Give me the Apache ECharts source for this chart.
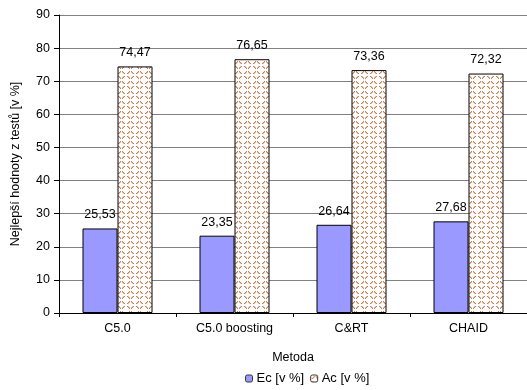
<!DOCTYPE html>
<html>
<head>
<meta charset="utf-8">
<script src="https://cdn.jsdelivr.net/npm/echarts@6/dist/echarts.min.js"></script>
<style>
html, body { margin: 0; padding: 0; background: #fff; }
#chart { width: 527px; height: 390px; }
</style>
</head>
<body>
<div id="chart"></div>
<script>
// Chart data
const categories = ['C5.0', 'C5.0 boosting', 'C&RT', 'CHAID'];
const ecValues = [25.53, 23.35, 26.64, 27.68];
const acValues = [74.47, 76.65, 73.36, 72.32];
const seriesNames = ['Ec [v %]', 'Ac [v %]'];
const yTicks = [0, 10, 20, 30, 40, 50, 60, 70, 80, 90];

// Tiled texture for the Ac bars: brown diagonal dashes in a diamond layout
function makePattern() {
  const c = document.createElement('canvas');
  c.width = 9; c.height = 10;
  const g = c.getContext('2d');
  g.fillStyle = '#ffffff';
  g.fillRect(0, 0, 9, 10);
  const strong = '#cf7d4c', soft = 'rgba(207,125,76,0.5)';
  const px = (x, y, col) => { g.fillStyle = col; g.fillRect(x, y, 1, 1); };
  // upper-left  /
  px(1, 3, strong); px(2, 2, strong); px(3, 1, strong); px(2, 3, soft); px(3, 2, soft);
  // upper-right \
  px(5, 1, strong); px(6, 2, strong); px(7, 3, strong); px(5, 2, soft); px(6, 3, soft);
  // lower-left  \
  px(1, 6, strong); px(2, 7, strong); px(3, 8, strong); px(2, 6, soft); px(3, 7, soft);
  // lower-right /
  px(7, 6, strong); px(6, 7, strong); px(5, 8, strong); px(6, 6, soft); px(5, 7, soft);
  return c;
}
const pattern = makePattern();

const fmt = v => v.toFixed(2).replace('.', ',');
const font = 'Liberation Sans, Arial, sans-serif';
const fs = 12.5;

const chart = echarts.init(document.getElementById('chart'), null, { renderer: 'canvas' });
chart.setOption({
  animation: false,
  textStyle: { fontFamily: font },
  grid: { left: 59, top: 15, width: 476, height: 298, containLabel: false },
  legend: {
    bottom: 0,
    left: 240,
    itemWidth: 7,
    itemHeight: 7,
    itemGap: 6,
    data: seriesNames,
    itemStyle: { borderColor: '#333', borderWidth: 1 },
    textStyle: { fontFamily: font, fontSize: 13, color: '#000', padding: [0, 0, 0, -1] }
  },
  xAxis: {
    type: 'category',
    data: categories,
    name: 'Metoda',
    nameLocation: 'middle',
    nameGap: 38,
    nameTextStyle: { fontFamily: font, fontSize: fs, color: '#000' },
    axisLine: { lineStyle: { color: '#000', width: 1 } },
    axisTick: { show: true, length: 4, lineStyle: { color: '#000' } },
    axisLabel: { color: '#000', fontSize: fs, margin: 9, fontFamily: font },
    splitLine: { show: false }
  },
  yAxis: {
    type: 'value',
    min: yTicks[0],
    max: yTicks[yTicks.length - 1],
    interval: 10,
    name: 'Nejlepší hodnoty z testů [v %]',
    nameLocation: 'middle',
    nameGap: 37,
    nameTextStyle: { fontFamily: font, fontSize: fs, color: '#000' },
    axisLine: { show: true, lineStyle: { color: '#000', width: 1 } },
    axisTick: { show: true, length: 5, inside: false, lineStyle: { color: '#000' } },
    axisLabel: { color: '#000', fontSize: fs, margin: 9, fontFamily: font },
    splitLine: { show: true, lineStyle: { color: '#808080', width: 1 } }
  },
  series: [
    {
      name: seriesNames[0],
      type: 'bar',
      data: ecValues,
      barWidth: 35,
      barGap: '0%',
      itemStyle: { color: '#9999ff', borderColor: '#000', borderWidth: 1 },
      label: {
        show: true, position: 'top', distance: 7,
        formatter: p => fmt(p.value),
        color: '#000', fontSize: fs, fontFamily: font
      }
    },
    {
      name: seriesNames[1],
      type: 'bar',
      data: acValues,
      barWidth: 35,
      itemStyle: {
        color: { image: pattern, repeat: 'repeat' },
        borderColor: '#000', borderWidth: 1
      },
      label: {
        show: true, position: 'top', distance: 7,
        formatter: p => fmt(p.value),
        color: '#000', fontSize: fs, fontFamily: font
      }
    }
  ]
});
</script>
</body>
</html>
